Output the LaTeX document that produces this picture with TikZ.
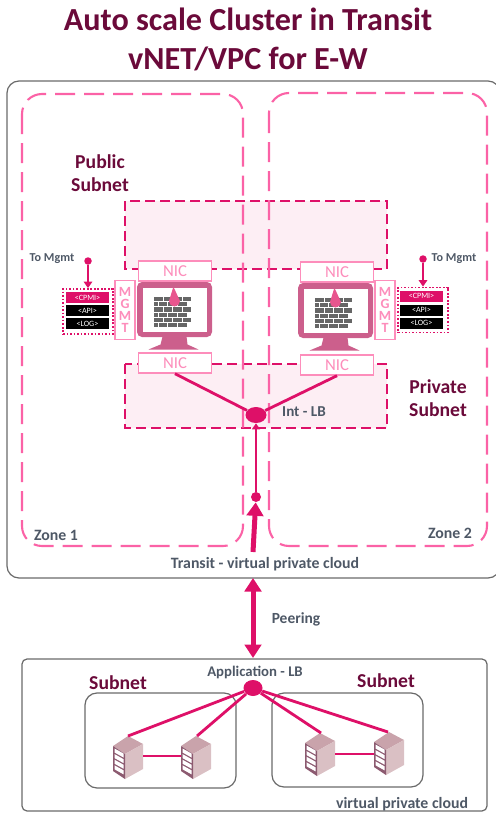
\documentclass[tikz,border=0pt]{standalone}
\usepackage{fontspec}
\setmainfont{Carlito}
\usepackage{xcolor}
\usetikzlibrary{calc,positioning,arrows.meta,shapes.geometric}
\definecolor{titlered}{HTML}{6B0A3A}
\definecolor{hotpink}{HTML}{DE1068}
\definecolor{zonepink}{HTML}{FB62A6}
\definecolor{nicpink}{HTML}{FD8DBB}
\definecolor{subnetfill}{HTML}{FDEEF4}
\definecolor{screenpink}{HTML}{CC5F8C}
\definecolor{flamepink}{HTML}{E8558E}
\definecolor{labelgrey}{HTML}{4E5866}
\definecolor{framegrey}{HTML}{6A6A6A}
\definecolor{servertop}{HTML}{C9A3AB}
\definecolor{serverside}{HTML}{DAC0C4}
\definecolor{serverfront}{HTML}{8C5A70}
\tikzset{
  frame/.style={draw=framegrey, line width=0.7pt, rounded corners=2.4mm},
  zone/.style={draw=zonepink, line width=1.2pt, rounded corners=4mm, dash pattern=on 4mm off 1.8mm},
  subnet/.style={draw=hotpink, fill=subnetfill, line width=1.5pt, dash pattern=on 2mm off 1mm},
  nicbox/.style={draw=nicpink, fill=white, line width=0.8pt, text=nicpink, minimum width=14.6mm, minimum height=4mm, inner sep=0pt, font=\fontsize{9.5}{10}\selectfont},
  mgmtbox/.style={draw=nicpink, fill=white, line width=0.8pt, text=nicpink, minimum width=4mm, minimum height=11.8mm, inner sep=0pt, align=center, font=\bfseries\fontsize{8}{6.9}\selectfont},
  logbox/.style={draw=hotpink, densely dotted, line width=1pt, minimum width=10mm, minimum height=9mm},
  logbar/.style={fill=black, text=white, minimum width=8.7mm, minimum height=2.2mm, inner sep=0pt, font=\fontsize{4.6}{4}\selectfont},
  lbdot/.style={ellipse, fill=hotpink, minimum width=4.2mm, minimum height=3.2mm, inner sep=0pt},
  smalldot/.style={circle, fill=hotpink, minimum size=2mm, inner sep=0pt},
  mgmtdot/.style={circle, fill=hotpink, minimum size=1.5mm, inner sep=0pt},
  link/.style={draw=hotpink, line width=1.6pt},
  mgmtline/.style={link, line width=0.9pt, -{Triangle[length=1.3mm,width=1.7mm]}},
  peer/.style={draw=hotpink, line width=1mm, {Triangle[length=2.7mm,width=3.3mm]}-{Triangle[length=2.7mm,width=3.3mm]}},
  uparrow/.style={draw=hotpink, line width=1mm, -{Triangle[length=2.7mm,width=3.3mm]}},
  label/.style={text=labelgrey, inner sep=0pt, font=\bfseries\fontsize{9}{10}\selectfont},
  tolabel/.style={label, font=\bfseries\fontsize{6.9}{8}\selectfont},
  sublabel/.style={text=titlered, inner sep=0pt, align=center, font=\bfseries\fontsize{11.2}{13}\selectfont},
  firewall/.pic={
    \fill[screenpink, rounded corners=1mm] (-37.5,-27.5) rectangle (37.5,27.5);
    \fill[white] (-31.5,-21.5) rectangle (32,22.5);
    \fill[screenpink] (-12,27) -- (12,27) -- (13,35) -- (24,40) -- (-26,40) -- (-14,35) -- cycle;
    \foreach \r in {0,2,4}
      \foreach \c in {0,1,2,3}
        \fill[black!60] ({-20.5+\c*9.6},{-12.5+\r*5.2}) rectangle ++(8.6,4.2);
    \foreach \r in {1,3,5}
      \foreach \c in {0,1,2,3}
        \fill[black!60] ({-20.5+\c*9.6-(\c==0?0:4.8)},{-12.5+\r*5.2}) rectangle ++({\c==0?3.8:8.6},4.2);
    \fill[flamepink] (-1.5,-21.5) -- (-5.5,-8.5) arc[start angle=180, end angle=0, radius=5.5] -- (-0.5,-21.5) -- cycle;
  },
  server/.pic={
    \fill[servertop] (0,10) -- (15,0) -- (30,8) -- (12,18) -- cycle;
    \fill[serverside] (12,18) -- (30,8) -- (30,33) -- (12,43) -- cycle;
    \fill[serverfront] (0,10) -- (12,18) -- (12,43) -- (0,35) -- cycle;
    \foreach \r in {0,1,2,3}
      \fill[white] (1.5,{12.5+\r*5.6}) -- (10.5,{17.5+\r*5.6}) -- (10.5,{21.5+\r*5.6}) -- (1.5,{16.5+\r*5.6}) -- cycle;
  }
}
\begin{document}
\begin{tikzpicture}[x=0.2mm, y=-0.2mm]
  \useasboundingbox (0,0) rectangle (495,818);
  \node[text=titlered, align=center, inner sep=0pt, font=\bfseries\fontsize{18.3}{22.2}\selectfont] (title) at (248,39) {Auto scale Cluster in Transit\\vNET/VPC for E-W};

  \draw[frame] (7,81) rectangle (500,578);
  \draw[subnet] (125,201) rectangle (387,269);
  \draw[subnet] (125,364) rectangle (387,428);
  \draw[zone] (22,94) rectangle (243,546);
  \draw[zone] (269,93) rectangle (487,546);

  \node[sublabel] (public) at (100,173) {Public\\Subnet};
  \node[sublabel] (private) at (438,398) {Private\\Subnet};
  \node[label] (zonea) at (56,535) {Zone 1};
  \node[label] (zoneb) at (450,533) {Zone 2};
  \node[label, font=\bfseries\fontsize{8.6}{10}\selectfont] (intlbtext) at (304,412) {Int - LB};
  \node[label] (transit) at (265,564) {Transit - virtual private cloud};
  \node[label, font=\bfseries\fontsize{8.8}{10}\selectfont] (peering) at (296,619) {Peering};

  \pic at (174.5,309.5) {firewall};
  \pic at (335.5,310.5) {firewall};

  \node[nicbox] (nicat) at (175,271) {NIC};
  \node[nicbox] (nicab) at (175,363) {NIC};
  \node[nicbox] (nicbt) at (337,272) {NIC};
  \node[nicbox] (nicbb) at (337,365) {NIC};
  \node[mgmtbox] (mgmta) at (125,310) {M\\G\\M\\T};
  \node[mgmtbox] (mgmtb) at (385,310) {M\\G\\M\\T};

  \node[logbox] (loga) at (88,311.5) {};
  \node[logbar, fill=hotpink] (cpmia) at (87.5,297.5) {<CPMI>};
  \node[logbar] (apia) at (87.5,310.5) {<API>};
  \node[logbar] (loga2) at (87.5,323.5) {<LOG>};
  \node[logbox] (logb) at (423,310) {};
  \node[logbar, fill=hotpink] (cpmib) at (421.5,296) {<CPMI>};
  \node[logbar] (apib) at (421.5,310) {<API>};
  \node[logbar] (logb2) at (421.5,323) {<LOG>};

  \node[mgmtdot] (dota) at (88,261) {};
  \node[mgmtdot] (dotb) at (423,259) {};
  \node[tolabel] (toa) at (52,259) {To Mgmt};
  \node[tolabel] (tob) at (454,259) {To Mgmt};
  \draw[mgmtline] (dota) -- (loga);
  \draw[mgmtline] (dotb) -- (logb);

  \node[lbdot] (intlb) at (256,415) {};
  \node[smalldot] (dot) at (256,497) {};
  \draw[link] (nicab.south) -- (intlb);
  \draw[link] (nicbb.south) -- (intlb);
  \draw[link, -{Triangle[length=1.2mm,width=1.6mm]}] (dot) -- (intlb);
  \coordinate (uptail) at (253,552);
  \coordinate (peertop) at (253,578);
  \coordinate (peerbot) at (253,658);
  \draw[uparrow] (uptail) -- (dot);
  \draw[peer] (peertop) -- (peerbot);

  \draw[frame, rounded corners=1mm] (22,659) rectangle (487,811);
  \draw[frame] (85,693) rectangle (236,788);
  \draw[frame] (272,693) rectangle (423,787);
  \node[sublabel] (subneta) at (118,683) {Subnet};
  \node[sublabel] (subnetb) at (386,681) {Subnet};
  \node[label, font=\bfseries\fontsize{8.4}{10}\selectfont] (applabel) at (255,672) {Application - LB};
  \node[label] (vpclabel) at (402,804) {virtual private cloud};
  \node[lbdot, minimum width=3.8mm] (applb) at (253,688) {};

  \pic at (113,736) {server};
  \pic at (181,736) {server};
  \pic at (305,733) {server};
  \pic at (374,732) {server};
  \coordinate (srva) at (128,736);
  \coordinate (srvb) at (197,736);
  \coordinate (srvc) at (321,733);
  \coordinate (srvd) at (388,732);
  \coordinate (linka) at (143,756);
  \coordinate (linkb) at (181,756);
  \coordinate (linkc) at (335,754);
  \coordinate (linkd) at (374,754);
  \draw[link] (applb) -- (srva);
  \draw[link] (applb) -- (srvb);
  \draw[link] (applb) -- (srvc);
  \draw[link] (applb) -- (srvd);
  \draw[link] (linka) -- (linkb);
  \draw[link] (linkc) -- (linkd);
\end{tikzpicture}
\end{document}
